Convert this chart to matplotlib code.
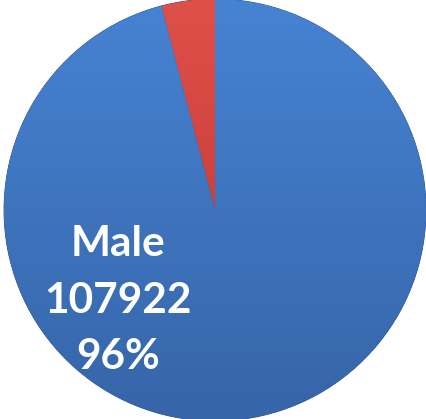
import numpy as np
import matplotlib.pyplot as plt
from matplotlib.colors import LinearSegmentedColormap

labels = ['Female', 'Male']
counts = [4600, 107922]
colors_top = ['#E0504A', '#4683D3']
colors_bottom = ['#B8302C', '#3665A8']

fig = plt.figure(figsize=(4.27, 4.19), dpi=100)
ax = fig.add_axes([0, 0, 1, 1])

wedges, _ = ax.pie(counts, startangle=90, counterclock=True, radius=1,
                   wedgeprops=dict(edgecolor='#2A4F85', linewidth=0.6))

# vertical gradient for each slice, clipped to the wedge
for w, ct, cb in zip(wedges, colors_top, colors_bottom):
    cmap = LinearSegmentedColormap.from_list('g', [cb, ct])
    grad = np.linspace(0, 1, 256).reshape(-1, 1)
    im = ax.imshow(grad, cmap=cmap, extent=(-1, 1, -1, 1), origin='lower',
                   aspect='auto', zorder=w.get_zorder() + 0.1)
    im.set_clip_path(w)
    w.set_facecolor(cb)

total = sum(counts)
pct = round(counts[1] / total * 100)
ax.text(-0.46, -0.43, f'{labels[1]}\n{counts[1]}\n{pct}%', ha='center', va='center',
        color='white', fontsize=30.5, fontweight='bold', family='Lato', linespacing=1.6,
        zorder=10)

ax.set_xlim(-215 / 211, 212 / 211)
ax.set_ylim(-209 / 211, 210 / 211)
ax.set_aspect('auto')
ax.axis('off')

fig.savefig('out.png', dpi=100)
